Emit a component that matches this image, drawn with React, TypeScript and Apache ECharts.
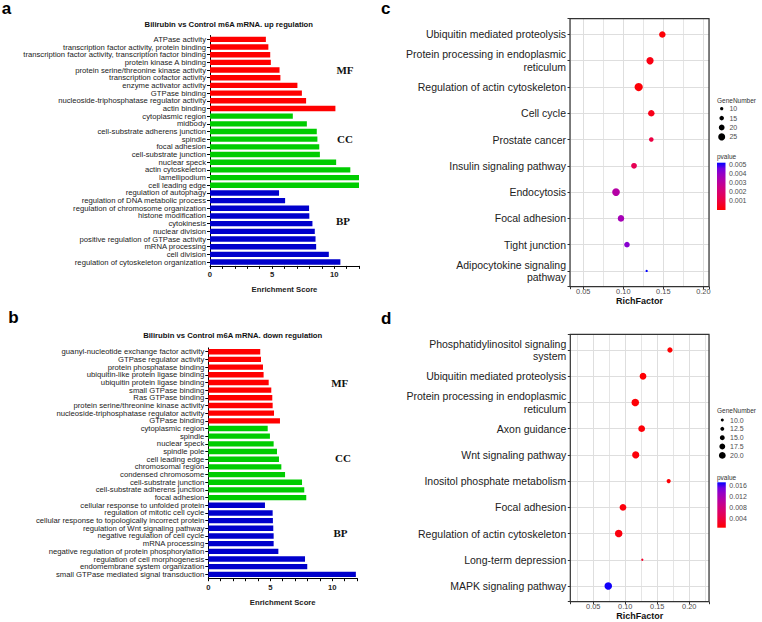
import React, { useEffect, useRef } from 'react';
import * as echarts from 'echarts';

const FONT = '"Liberation Sans", Arial, sans-serif';
const SERIF = '"Liberation Serif", "Times New Roman", serif';

// ---------- Panel a (up regulation) ----------
const aMFNames = ['ATPase activity', 'transcription factor activity, protein binding', 'transcription factor activity, transcription factor binding', 'protein kinase A binding', 'protein serine/threonine kinase activity', 'transcription cofactor activity', 'enzyme activator activity', 'GTPase binding', 'nucleoside-triphosphatase regulator activity', 'actin binding'];
const aMFValues = [4.5, 4.7, 4.85, 4.9, 5.6, 5.67, 7.04, 7.4, 7.74, 10.1];
const aCCNames = ['cytoplasmic region', 'midbody', 'cell-substrate adherens junction', 'spindle', 'focal adhesion', 'cell-substrate junction', 'nuclear speck', 'actin cytoskeleton', 'lamellipodium', 'cell leading edge'];
const aCCValues = [6.67, 7.8, 8.6, 8.65, 8.8, 8.85, 10.16, 11.3, 12.0, 12.0];
const aBPNames = ['regulation of autophagy', 'regulation of DNA metabolic process', 'regulation of chromosome organization', 'histone modification', 'cytokinesis', 'nuclear division', 'positive regulation of GTPase activity', 'mRNA processing', 'cell division', 'regulation of cytoskeleton organization'];
const aBPValues = [5.56, 6.05, 7.98, 8.0, 8.25, 8.44, 8.5, 8.55, 9.57, 10.5];

// ---------- Panel b (down regulation) ----------
const bMFNames = ['guanyl-nucleotide exchange factor activity', 'GTPase regulator activity', 'protein phosphatase binding', 'ubiquitin-like protein ligase binding', 'ubiquitin protein ligase binding', 'small GTPase binding', 'Ras GTPase binding', 'protein serine/threonine kinase activity', 'nucleoside-triphosphatase regulator activity', 'GTPase binding'];
const bMFValues = [4.19, 4.25, 4.41, 4.46, 4.87, 5.08, 5.16, 5.19, 5.3, 5.78];
const bCCNames = ['cytoplasmic region', 'spindle', 'nuclear speck', 'spindle pole', 'cell leading edge', 'chromosomal region', 'condensed chromosome', 'cell-substrate junction', 'cell-substrate adherens junction', 'focal adhesion'];
const bCCValues = [4.79, 4.97, 5.27, 5.54, 5.7, 5.89, 6.19, 7.56, 7.74, 7.9];
const bBPNames = ['cellular response to unfolded protein', 'regulation of mitotic cell cycle', 'cellular response to topologically incorrect protein', 'regulation of Wnt signaling pathway', 'negative regulation of cell cycle', 'mRNA processing', 'negative regulation of protein phosphorylation', 'regulation of cell morphogenesis', 'endomembrane system organization', 'small GTPase mediated signal transduction'];
const bBPValues = [4.57, 5.19, 5.21, 5.24, 5.27, 5.27, 5.65, 7.8, 7.98, 11.9];

const barTickLabels = [0, 5, 10];
const groupLabels = ['MF', 'CC', 'BP'];

// ---------- Panel c (KEGG up) ----------
const cNames = ['Ubiquitin mediated proteolysis', 'Protein processing in endoplasmic\nreticulum', 'Regulation of actin cytoskeleton', 'Cell cycle', 'Prostate cancer', 'Insulin signaling pathway', 'Endocytosis', 'Focal adhesion', 'Tight junction', 'Adipocytokine signaling\npathway'];
const cRich = [0.1488, 0.1334, 0.1192, 0.135, 0.135, 0.1134, 0.0909, 0.0971, 0.1046, 0.1292];
const cGenes = [23, 26, 30, 23, 15, 20, 28, 23, 19, 6];
const cPvals = [0.0001, 0.0003, 0.0001, 0.0004, 0.0011, 0.0014, 0.0032, 0.0036, 0.0042, 0.0052];
const cXTicks = [0.05, 0.1, 0.15, 0.2];
const cXMinor = [0.075, 0.125, 0.175];
const cLegendGenes = [10, 15, 20, 25];
const cBarTicks = [0.001, 0.002, 0.003, 0.004, 0.005];

// ---------- Panel d (KEGG down) ----------
const dNames = ['Phosphatidylinositol signaling\nsystem', 'Ubiquitin mediated proteolysis', 'Protein processing in endoplasmic\nreticulum', 'Axon guidance', 'Wnt signaling pathway', 'Inositol phosphate metabolism', 'Focal adhesion', 'Regulation of actin cytoskeleton', 'Long-term depression', 'MAPK signaling pathway'];
const dRich = [0.1698, 0.1277, 0.1156, 0.1256, 0.1163, 0.1678, 0.0964, 0.0897, 0.1266, 0.0734];
const dGenes = [16, 20, 22, 20, 21, 13, 20, 22, 8, 22];
const dPvals = [0.0008, 0.0009, 0.001, 0.0011, 0.0012, 0.0009, 0.0013, 0.0014, 0.0028, 0.0168];
const dXTicks = [0.05, 0.1, 0.15, 0.2];
const dXMinor = [0.025, 0.075, 0.125, 0.175, 0.225];
const dLegendGenes = [10.0, 12.5, 15.0, 17.5, 20.0];
const dBarTicks = [0.004, 0.008, 0.012, 0.016];

const PCOLORS = ['#FF0000', '#F40029', '#E8004F', '#DA006D', '#CA0089', '#B300A7', '#9A00C2', '#7300E0', '#0000FF'];
const RED = '#FF0000', GREEN = '#00CC00', BLUE = '#0000CC';
const GRIDLINE = '#DEDEDE';

const sizeC = (n: number) => 3.3 + (n - 10) * 0.247;
const sizeD = (n: number) => 3 + (n - 10) * 0.38;

const gradient = () => ({
  type: 'linear', x: 0, y: 1, x2: 0, y2: 0,
  colorStops: PCOLORS.map((c, i) => ({ offset: i / (PCOLORS.length - 1), color: c })),
});

const isTick = (ticks: number[], v: number) => ticks.some((t) => Math.abs(t - v) < 1e-9);

function barData(groups: [number[], string][]) {
  const out: any[] = [];
  groups.forEach(([vals, col]) => vals.forEach((v) => out.push({ value: v, itemStyle: { color: col } })));
  return out;
}

function barXAxis(gridIndex: number) {
  return {
    gridIndex, type: 'value', min: 0, max: 12, interval: 1,
    axisLine: { show: true, onZero: false, lineStyle: { color: '#000', width: 1 } },
    axisTick: { show: true, length: 3, lineStyle: { color: '#000', width: 1 } },
    axisLabel: {
      formatter: (v: number) => (barTickLabels.indexOf(v) >= 0 ? String(v) : ''),
      fontSize: 7.7, fontWeight: 'bold', color: '#222', margin: 5, fontFamily: FONT,
    },
    splitLine: { show: false },
    name: 'Enrichment Score', nameLocation: 'middle', nameGap: 20, nameMoveOverlap: false,
    nameTextStyle: { fontSize: 7.7, fontWeight: 'bold', color: '#222', fontFamily: FONT },
  };
}

function barYAxis(gridIndex: number, names: string[]) {
  return {
    gridIndex, type: 'category', inverse: true, data: names,
    axisLine: { show: true, onZero: false, lineStyle: { color: '#000', width: 1 } },
    axisTick: { show: true, alignWithLabel: true, interval: 0, length: 3, lineStyle: { color: '#000' } },
    axisLabel: { interval: 0, fontSize: 7.7, color: '#222', margin: 4, fontFamily: FONT },
    splitLine: { show: false },
  };
}

function dotXAxis(gridIndex: number, min: number, max: number, ticks: number[]) {
  return {
    gridIndex, type: 'value', min, max, minInterval: 0.05, maxInterval: 0.05,
    axisLine: { show: false, onZero: false },
    axisTick: { show: true, length: 2.5, lineStyle: { color: '#333' } },
    axisLabel: {
      formatter: (v: number) => (isTick(ticks, v) ? v.toFixed(2) : ''),
      fontSize: 7.4, color: '#4d4d4d', margin: 1.5, fontFamily: FONT,
    },
    splitLine: { show: true, lineStyle: { color: GRIDLINE, width: 1 } },
    name: 'RichFactor', nameLocation: 'middle', nameGap: 10, nameMoveOverlap: false,
    nameTextStyle: { fontSize: 9, fontWeight: 'bold', color: '#111', fontFamily: FONT },
  };
}

function dotYAxis(gridIndex: number, names: string[]) {
  return {
    gridIndex, type: 'value', inverse: true, min: -0.6, max: names.length - 0.4, minInterval: 1, maxInterval: 1,
    axisLine: { show: false, onZero: false },
    axisTick: { show: true, length: 2.5, lineStyle: { color: '#333' } },
    axisLabel: {
      formatter: (v: number) => {
        const r = Math.round(v);
        return Math.abs(r - v) < 1e-6 && r >= 0 && r < names.length ? names[r] : '';
      },
      fontSize: 10.5, lineHeight: 12.7, color: '#222', margin: 4, fontFamily: FONT,
    },
    splitLine: { show: true, lineStyle: { color: GRIDLINE, width: 1 } },
  };
}

function dotSeries(idx: number, rich: number[], pv: number[], genes: number[], minor: number[], sizeFn: (n: number) => number) {
  return {
    type: 'scatter', xAxisIndex: idx, yAxisIndex: idx,
    data: rich.map((x, i) => [x, i, pv[i], genes[i]]),
    symbolSize: (v: number[]) => sizeFn(v[3]),
    itemStyle: { opacity: 1 },
    z: 3,
    markLine: {
      silent: true, symbol: ['none', 'none'], label: { show: false }, precision: 4,
      lineStyle: { color: GRIDLINE, width: 0.8, type: 'solid' },
      emphasis: { disabled: true },
      data: minor.map((m) => ({ xAxis: m })),
      z: 1,
    },
  };
}

function hiddenX(gridIndex: number) {
  return { gridIndex, type: 'value', min: 0, max: 1, show: false };
}

function sizeLegendY(gridIndex: number, labels: string[]) {
  return {
    gridIndex, type: 'category', inverse: true, data: labels, position: 'right',
    axisLine: { show: false, onZero: false }, axisTick: { show: false }, splitLine: { show: false },
    axisLabel: { interval: 0, fontSize: 7, color: '#4d4d4d', margin: 3, fontFamily: FONT },
  };
}

function colorBarY(gridIndex: number, min: number, max: number, step: number, ticks: number[]) {
  return {
    gridIndex, type: 'value', min, max, minInterval: step, maxInterval: step, position: 'right',
    axisLine: { show: false, onZero: false }, splitLine: { show: false },
    axisTick: { show: false },
    axisLabel: {
      formatter: (v: number) => (isTick(ticks, v) ? v.toFixed(3) : ''),
      fontSize: 7, color: '#4d4d4d', margin: 3.5, fontFamily: FONT,
    },
  };
}

const txt = (text: string, x: number, y: number, style: any) => ({
  type: 'text', x, y, silent: true, z: 50,
  style: { text, fill: '#000', fontFamily: FONT, verticalAlign: 'middle', align: 'left', ...style },
});

export default function App() {
  const ref = useRef<HTMLDivElement>(null);
  useEffect(() => {
    if (!ref.current) return;
    const chart = echarts.init(ref.current, null, { renderer: 'svg' });
    const gridBase = { containLabel: false, outerBoundsMode: 'none' };
    const box = { show: true, z: 10, borderColor: '#333', borderWidth: 1.2, backgroundColor: 'transparent' };
    const aNames = [...aMFNames, ...aCCNames, ...aBPNames];
    const bNames = [...bMFNames, ...bCCNames, ...bBPNames];

    const option: any = {
      animation: false,
      backgroundColor: '#fff',
      textStyle: { fontFamily: FONT },
      grid: [
        { ...gridBase, left: 210, top: 35.5, width: 149, height: 230.4 },
        { ...gridBase, left: 208.3, top: 347.9, width: 148.8, height: 230.3 },
        { ...gridBase, ...box, left: 570, top: 18.7, width: 139, height: 268 },
        { ...gridBase, ...box, left: 570.3, top: 334.3, width: 138.7, height: 267.4 },
        { ...gridBase, left: 717, top: 104, width: 9.4, height: 37.6 },
        { ...gridBase, show: true, borderWidth: 0, backgroundColor: gradient(), left: 717, top: 162.7, width: 8.5, height: 47.3 },
        { ...gridBase, left: 717.6, top: 415.6, width: 9.4, height: 44.2 },
        { ...gridBase, show: true, borderWidth: 0, backgroundColor: gradient(), left: 717.3, top: 482.3, width: 8.5, height: 45.4 },
      ],
      xAxis: [
        barXAxis(0),
        barXAxis(1),
        dotXAxis(2, 0.0334, 0.2071, cXTicks),
        dotXAxis(3, 0.0141, 0.2308, dXTicks),
        hiddenX(4),
        hiddenX(5),
        hiddenX(6),
        hiddenX(7),
      ],
      yAxis: [
        barYAxis(0, aNames),
        barYAxis(1, bNames),
        dotYAxis(2, cNames),
        dotYAxis(3, dNames),
        sizeLegendY(4, cLegendGenes.map((g) => String(g))),
        colorBarY(5, 0, 0.0052, 0.001, cBarTicks),
        sizeLegendY(6, dLegendGenes.map((g) => g.toFixed(1))),
        colorBarY(7, 0.0007, 0.0171, 0.004, dBarTicks),
      ],
      visualMap: [
        { type: 'continuous', show: false, seriesIndex: 2, dimension: 2, min: 0, max: 0.0052, inRange: { color: PCOLORS } },
        { type: 'continuous', show: false, seriesIndex: 3, dimension: 2, min: 0.0007, max: 0.0171, inRange: { color: PCOLORS } },
      ],
      series: [
        {
          type: 'bar', xAxisIndex: 0, yAxisIndex: 0, barWidth: '70%',
          data: barData([[aMFValues, RED], [aCCValues, GREEN], [aBPValues, BLUE]]),
        },
        {
          type: 'bar', xAxisIndex: 1, yAxisIndex: 1, barWidth: '70%',
          data: barData([[bMFValues, RED], [bCCValues, GREEN], [bBPValues, BLUE]]),
        },
        dotSeries(2, cRich, cPvals, cGenes, cXMinor, sizeC),
        dotSeries(3, dRich, dPvals, dGenes, dXMinor, sizeD),
        {
          type: 'scatter', xAxisIndex: 4, yAxisIndex: 4,
          data: cLegendGenes.map((g, i) => [0.5, i, g]),
          symbolSize: (v: number[]) => sizeC(v[2]),
          itemStyle: { color: '#000', opacity: 1 },
        },
        {
          type: 'scatter', xAxisIndex: 6, yAxisIndex: 6,
          data: dLegendGenes.map((g, i) => [0.5, i, g]),
          symbolSize: (v: number[]) => sizeD(v[2]),
          itemStyle: { color: '#000', opacity: 1 },
        },
      ],
      graphic: [
        txt('a', 1.7, 8.5, { fontSize: 17, fontWeight: 'bold' }),
        txt('b', 8.3, 317.1, { fontSize: 17, fontWeight: 'bold' }),
        txt('c', 381, 8.5, { fontSize: 17, fontWeight: 'bold' }),
        txt('d', 381, 318.8, { fontSize: 17, fontWeight: 'bold' }),
        txt('Bilirubin vs Control m6A mRNA. up regulation', 228.8, 24.2, { fontSize: 7.7, fontWeight: 'bold', align: 'center', fill: '#111' }),
        txt('Bilirubin vs Control m6A mRNA. down regulation', 232.7, 335.5, { fontSize: 7.7, fontWeight: 'bold', align: 'center', fill: '#111' }),
        txt(groupLabels[0], 345, 70, { fontSize: 11, fontWeight: 'bold', align: 'center', fontFamily: SERIF, fill: '#111' }),
        txt(groupLabels[1], 345, 139, { fontSize: 11, fontWeight: 'bold', align: 'center', fontFamily: SERIF, fill: '#111' }),
        txt(groupLabels[2], 343, 221, { fontSize: 11, fontWeight: 'bold', align: 'center', fontFamily: SERIF, fill: '#111' }),
        txt(groupLabels[0], 339.7, 383, { fontSize: 11, fontWeight: 'bold', align: 'center', fontFamily: SERIF, fill: '#111' }),
        txt(groupLabels[1], 343, 458, { fontSize: 11, fontWeight: 'bold', align: 'center', fontFamily: SERIF, fill: '#111' }),
        txt(groupLabels[2], 340.5, 533, { fontSize: 11, fontWeight: 'bold', align: 'center', fontFamily: SERIF, fill: '#111' }),
        txt('GeneNumber', 717, 100, { fontSize: 6.5, fill: '#333' }),
        txt('pvalue', 717, 156.7, { fontSize: 6.5, fill: '#333' }),
        txt('GeneNumber', 717, 410, { fontSize: 6.5, fill: '#333' }),
        txt('pvalue', 717, 477.3, { fontSize: 6.5, fill: '#333' }),
      ],
    };
    chart.setOption(option);
    return () => chart.dispose();
  }, []);
  return (
    <div
      ref={ref}
      style={{ position: 'fixed', left: 0, top: 0, width: 762, height: 622, background: '#fff' }}
    />
  );
}
